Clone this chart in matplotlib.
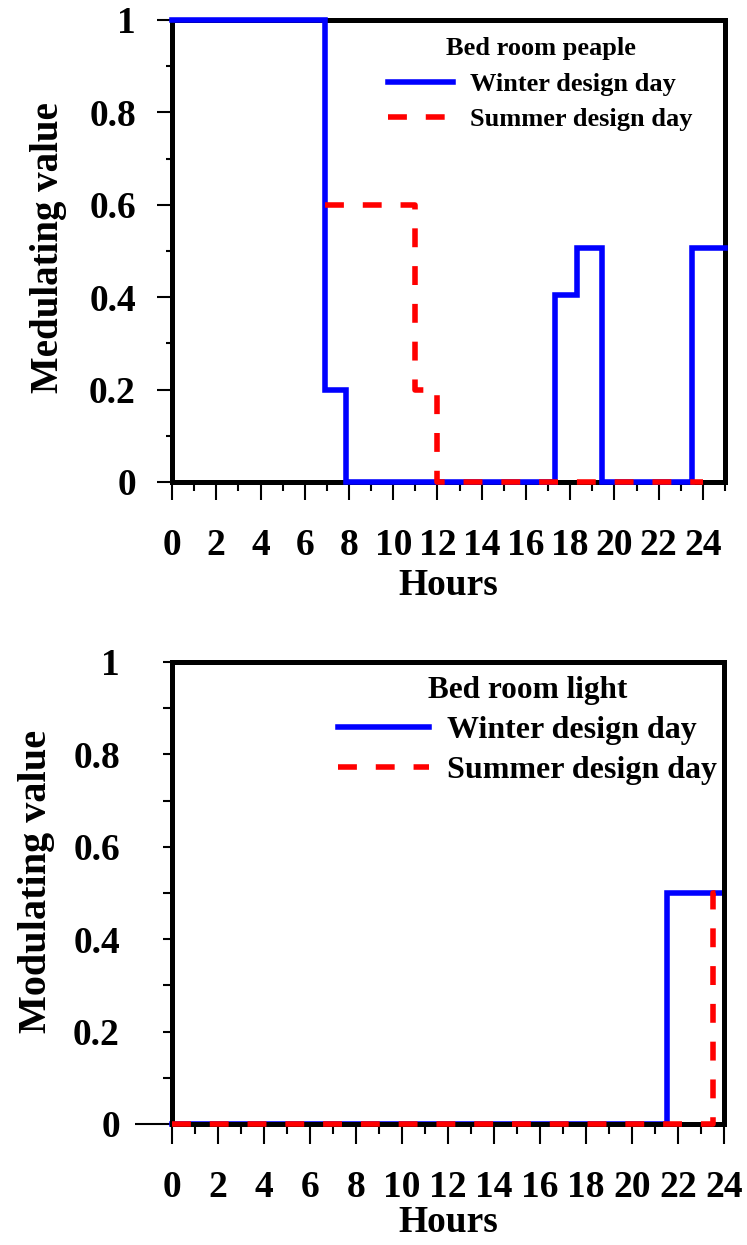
import matplotlib
matplotlib.use("Agg")
import matplotlib.pyplot as plt
from matplotlib.ticker import MultipleLocator

plt.rcParams["font.family"] = ["Liberation Serif", "DejaVu Serif"]
plt.rcParams["font.weight"] = "bold"

# Bedroom occupancy schedule (step values, each holds until the next hour mark)
people_winter_hours = [0, 6.9, 7.85, 17.3, 18.3, 19.45, 23.5, 25]
people_winter_values = [1, 0.2, 0, 0.405, 0.507, 0, 0.507, 0.507]
people_summer_hours = [6.9, 11, 12, 24]
people_summer_values = [0.6, 0.2, 0, 0]

# Bedroom lighting schedule
light_winter_hours = [0, 21.5, 24]
light_winter_values = [0, 0.5, 0.5]
light_summer_hours = [0, 23.5, 24]
light_summer_values = [0, 0.5, 0.5]

xtick_labels = [str(h) for h in range(0, 25, 2)]
ytick_values = [0, 0.2, 0.4, 0.6, 0.8, 1]
ytick_labels = ["0", "0.2", "0.4", "0.6", "0.8", "1"]

BLUE = "#0000ff"
RED = "#ff0000"
LW = 4.0
DASH = (3.4, 3.4)

fig = plt.figure(figsize=(7.47, 12.45), dpi=100)


def style_axes(ax, xmax, ylabel, ylabel_size, ytick_len, ytick_minor_len,
               ytick_pad, xtick_len, xtick_minor_len, xtick_pad, xlabel_pad):
    ax.set_xlim(0, xmax)
    ax.set_ylim(0, 1)
    ax.set_xticks(list(range(0, 25, 2)))
    ax.set_xticklabels(xtick_labels)
    ax.xaxis.set_minor_locator(MultipleLocator(1))
    ax.set_yticks(ytick_values)
    ax.set_yticklabels(ytick_labels)
    ax.yaxis.set_minor_locator(MultipleLocator(0.1))
    for s in ax.spines.values():
        s.set_linewidth(3.6)
        s.set_capstyle("projecting")
    ax.tick_params(axis="x", which="major", direction="out", length=xtick_len,
                   width=1.5, pad=xtick_pad, labelsize=27)
    ax.tick_params(axis="x", which="minor", direction="out",
                   length=xtick_minor_len, width=1.5)
    ax.tick_params(axis="y", which="major", direction="out", length=ytick_len,
                   width=1.5, pad=ytick_pad, labelsize=27)
    ax.tick_params(axis="y", which="minor", direction="out",
                   length=ytick_minor_len, width=1.5)
    for lab in ax.get_xticklabels() + ax.get_yticklabels():
        lab.set_fontweight("bold")
    ax.set_xlabel("Hours", fontsize=27, fontweight="bold", labelpad=xlabel_pad)
    ax.set_ylabel(ylabel, fontsize=ylabel_size, fontweight="bold")


# ---- Bedroom people ----
ax1 = fig.add_axes([0.2303, 0.6129, 0.7403, 0.3711])
ax1.plot(people_winter_hours, people_winter_values, drawstyle="steps-post",
         color=BLUE, lw=LW, zorder=3, clip_on=False, solid_joinstyle="miter",
         label="Winter design day")
ax1.plot(people_summer_hours, people_summer_values, drawstyle="steps-post",
         color=RED, lw=LW, dashes=DASH, zorder=4, clip_on=False,
         label="Summer design day")
style_axes(ax1, 25, "Medulating value", 28, 11, 4, 15, 13, 6.5, 20, 4)
ax1.yaxis.set_label_coords(-0.19, 0.508)
leg1 = ax1.legend(loc="upper left", bbox_to_anchor=(0.372, 0.985), frameon=False,
                  title="Bed room peaple", fontsize=19, title_fontsize=19,
                  handlelength=2.45, handletextpad=0.65, labelspacing=0.45,
                  borderaxespad=0)
leg1.get_title().set_fontweight("bold")
for t in leg1.get_texts():
    t.set_fontweight("bold")

# ---- Bedroom light ----
ax2 = fig.add_axes([0.2303, 0.0972, 0.7390, 0.3711])
ax2.plot(light_winter_hours, light_winter_values, drawstyle="steps-post",
         color=BLUE, lw=LW, zorder=2, clip_on=False, solid_joinstyle="miter",
         label="Winter design day")
ax2.plot(light_summer_hours, light_summer_values, drawstyle="steps-post",
         color=RED, lw=LW, dashes=DASH, zorder=4, clip_on=False,
         label="Summer design day")
style_axes(ax2, 24, "Modulating value", 29, 6.5, 6.5, 31, 14.5, 7, 18.5, 0)
ax2.yaxis.get_major_ticks()[0].tick1line.set_markersize(27)
ax2.yaxis.set_label_coords(-0.212, 0.524)
leg2 = ax2.legend(loc="upper left", bbox_to_anchor=(0.278, 0.998), frameon=False,
                  title="Bed room light", fontsize=23, title_fontsize=22.5,
                  handlelength=2.85, handletextpad=0.55, labelspacing=0.34,
                  borderaxespad=0)
leg2.get_title().set_fontweight("bold")
for t in leg2.get_texts():
    t.set_fontweight("bold")

fig.savefig("out.png", dpi=100)
